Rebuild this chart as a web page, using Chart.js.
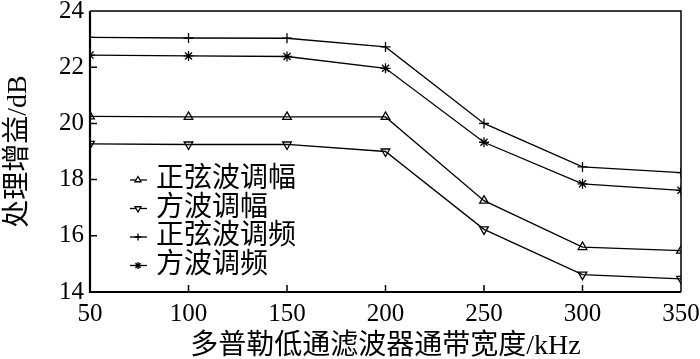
<!DOCTYPE html>
<html>
<head>
<meta charset="utf-8">
<script src="https://cdn.jsdelivr.net/npm/chart.js@4.4.1/dist/chart.umd.min.js"></script>
<style>
  html, body { margin: 0; padding: 0; background: #fff; }
  #wrap { width: 700px; height: 359px; }
</style>
</head>
<body>
<div id="wrap"><canvas id="grafico"></canvas></div>
<script>
// ===== dados =====
const larguraBanda = [50, 100, 150, 200, 250, 300, 350];
const senoAM = [20.25, 20.23, 20.23, 20.23, 17.25, 15.6, 15.47];
const quadradaAM = [19.27, 19.25, 19.25, 19.0, 16.23, 14.62, 14.47];
const senoFM = [23.06, 23.04, 23.03, 22.72, 20.0, 18.45, 18.25];
const quadradaFM = [22.43, 22.4, 22.38, 21.96, 19.33, 17.85, 17.62];
const nomesSeries = ['正弦波调幅', '方波调幅', '正弦波调频', '方波调频'];
const ticksX = [50, 100, 150, 200, 250, 300, 350];
const ticksY = [14, 16, 18, 20, 22, 24];

const fonteSerif = '"Liberation Serif", "Noto Sans CJK SC", serif';

function serie(label, valores, estilo, rot) {
    return {
        label: label,
        data: larguraBanda.map((x, i) => ({ x: x, y: valores[i] })),
        borderColor: '#000',
        backgroundColor: 'rgba(0,0,0,0)',
        borderWidth: 1.3,
        pointStyle: estilo,
        pointRotation: rot || 0,
        pointRadius: 5,
        pointBorderWidth: 1.3,
        pointBorderColor: '#000',
        pointBackgroundColor: 'rgba(0,0,0,0)',
        tension: 0
    };
}

// moldura, marcas internas e legenda dentro do gráfico
const molduraPlugin = {
    id: 'moldura',
    afterDraw(chart) {
        const ctx = chart.ctx;
        const a = chart.chartArea;
        const sx = chart.scales.x, sy = chart.scales.y;
        ctx.save();
        ctx.strokeStyle = '#000';
        ctx.lineWidth = 1.5;
        ctx.beginPath();
        ctx.moveTo(a.left, a.top); ctx.lineTo(a.right, a.top); ctx.lineTo(a.right, a.bottom);
        ctx.stroke();
        ctx.lineWidth = 2.2;
        ctx.beginPath();
        ctx.moveTo(a.left, a.top); ctx.lineTo(a.left, a.bottom); ctx.lineTo(a.right, a.bottom);
        ctx.stroke();
        ctx.lineWidth = 1.5;
        ctx.beginPath();
        ticksX.slice(1, -1).forEach(v => {
            const px = sx.getPixelForValue(v);
            ctx.moveTo(px, a.bottom); ctx.lineTo(px, a.bottom - 7);
        });
        ticksY.slice(1, -1).forEach(v => {
            const py = sy.getPixelForValue(v);
            ctx.moveTo(a.left, py); ctx.lineTo(a.left + 7, py);
        });
        ctx.stroke();

        // legenda
        ctx.font = '28px ' + fonteSerif;
        ctx.textBaseline = 'middle';
        chart.data.datasets.forEach((ds, i) => {
            const y = 180 + i * 28.5;
            const xs = 138;
            ctx.lineWidth = 1.3;
            ctx.beginPath();
            ctx.moveTo(xs - 8, y); ctx.lineTo(xs + 9, y);
            ctx.stroke();
            ctx.fillStyle = '#fff';
            Chart.helpers.drawPoint(ctx, {
                pointStyle: ds.pointStyle, rotation: ds.pointRotation,
                radius: 3.5, borderWidth: 1.2
            }, xs, y);
            ctx.fillStyle = '#000';
            ctx.fillText(ds.label, 156, y);
        });
        ctx.restore();
    }
};

new Chart(document.getElementById('grafico'), {
    type: 'line',
    data: {
        datasets: [
            serie(nomesSeries[0], senoAM, 'triangle', 0),
            serie(nomesSeries[1], quadradaAM, 'triangle', 180),
            serie(nomesSeries[2], senoFM, 'cross', 0),
            serie(nomesSeries[3], quadradaFM, 'star', 0)
        ]
    },
    options: {
        responsive: true,
        maintainAspectRatio: false,
        animation: false,
        layout: { padding: { top: 11, right: 19, left: 0, bottom: 0 } },
        plugins: {
            legend: { display: false },
            tooltip: { enabled: false }
        },
        scales: {
            x: {
                type: 'linear',
                min: 50, max: 350,
                afterBuildTicks: s => { s.ticks = ticksX.map(v => ({ value: v })); },
                afterFit: s => { s.height = 67; s.paddingLeft = 0; s.paddingRight = 0; },
                grid: { display: false, drawTicks: false },
                border: { display: false },
                ticks: { color: '#000', padding: 7, font: { family: fonteSerif, size: 25 } },
                title: {
                    display: true, text: '多普勒低通滤波器通带宽度/kHz', color: '#000',
                    font: { family: fonteSerif, size: 28 }, padding: { top: 0, bottom: -4 }
                }
            },
            y: {
                min: 14, max: 24,
                afterBuildTicks: s => { s.ticks = ticksY.map(v => ({ value: v })); },
                afterFit: s => { s.width = 90; s.paddingTop = 0; s.paddingBottom = 0; },
                grid: { display: false, drawTicks: false },
                border: { display: false },
                ticks: { color: '#000', padding: 6, font: { family: fonteSerif, size: 25 } },
                title: {
                    display: true, text: '处理增益/dB', color: '#000',
                    font: { family: fonteSerif, size: 28 }, padding: { top: 2, bottom: 0 }
                }
            }
        }
    },
    plugins: [molduraPlugin]
});
</script>
</body>
</html>
